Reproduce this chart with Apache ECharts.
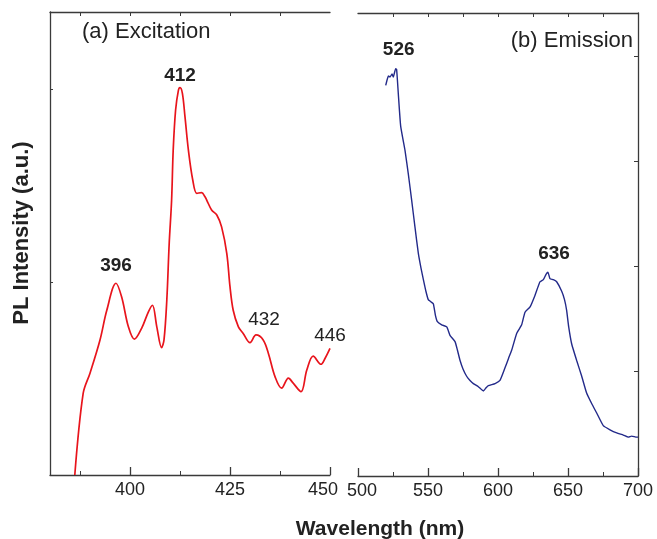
<!DOCTYPE html>
<html><head><meta charset="utf-8">
<script src="https://cdn.jsdelivr.net/npm/echarts@6/dist/echarts.min.js"></script>
<style>html,body{margin:0;padding:0;background:#fff}#c{width:657px;height:539px}</style>
</head><body><div id="c"></div>
<script>
// Excitation (a)
const exWl = [386.2, 388.3, 390, 392.5, 394.2, 396.5, 397.9, 399.6, 401.1, 402.9, 404.6, 405.6, 406.7, 407.9, 408.5, 409.2, 409.8, 410.4, 410.8, 411.4, 412.1, 412.5, 413.1, 413.75, 414.6, 415.7, 416.7, 417.9, 418.75, 419.2, 420.4, 421.7, 422.9, 424.2, 425, 425.8, 427.1, 428.3, 430, 431.5, 433.3, 434.6, 436.25, 437.9, 439.6, 440.8, 442.75, 444.2, 445.8, 447.75, 448.75, 450];
const exVal = [0, 21.2, 26.4, 35.0, 42.7, 49.7, 46.2, 38.4, 35.2, 38.0, 42.3, 44.0, 38.4, 33.0, 35.0, 45.3, 60.0, 71.2, 84.2, 94.6, 99.7, 100.4, 98.9, 92.8, 84.2, 76.4, 73.0, 73.2, 72.1, 71.2, 68.7, 67.4, 64.3, 57.4, 48.8, 42.7, 38.4, 36.7, 34.3, 36.3, 35.0, 31.5, 25.5, 22.5, 25.1, 23.8, 21.6, 27.2, 30.8, 28.7, 30.2, 32.8];
// Emission (b)
const emWl = [519.8, 521.7, 522.9, 524.3, 525.2, 526.9, 527.6, 528.8, 530.5, 533.6, 536, 538.3, 540.7, 543.1, 545, 546.7, 548.5, 550.2, 552, 553.8, 555.3, 556.7, 559.8, 563.4, 565.7, 569.3, 571, 572.9, 575, 577.6, 580, 582.4, 586, 589.5, 591.5, 593.1, 597.9, 601.4, 605, 607.5, 609.8, 613.4, 616.9, 619.3, 622.9, 626.4, 630, 632.4, 634.3, 635.7, 637.1, 639.5, 641.9, 645.5, 647.5, 649, 650.5, 652.6, 656.2, 659.8, 663.3, 666.9, 670.5, 675.2, 680, 684.8, 689.5, 693.1, 695.5, 699.1, 700];
const emVal = [3.72, 3.81, 3.80, 3.83, 3.80, 3.88, 3.87, 3.64, 3.33, 3.10, 2.87, 2.63, 2.37, 2.12, 1.98, 1.87, 1.76, 1.68, 1.66, 1.64, 1.53, 1.47, 1.44, 1.42, 1.34, 1.28, 1.20, 1.10, 1.02, 0.95, 0.91, 0.88, 0.85, 0.81, 0.84, 0.86, 0.88, 0.91, 1.03, 1.12, 1.20, 1.36, 1.44, 1.56, 1.61, 1.72, 1.85, 1.87, 1.92, 1.94, 1.88, 1.87, 1.85, 1.76, 1.68, 1.58, 1.42, 1.26, 1.10, 0.95, 0.79, 0.69, 0.60, 0.48, 0.44, 0.41, 0.39, 0.37, 0.38, 0.37, 0.37];
// Ticks
const exMajorTicks = [400, 425, 450];
const exMinorTicks = [387.5, 412.5, 437.5];
const exTopTicks = [387.5, 400, 412.5, 425, 437.5];
const emTopTicks = [525, 550, 575, 600, 625, 650, 675];
const exYTicks = [50, 100];
const emYTicks = [1, 2, 3, 4];
// Peak annotations: [wavelength, value, text, bold]
const exPeaks = [[396.5, 49.7, '396', true], [412.5, 100.4, '412', true], [431.5, 36.3, '432', false], [450, 32.8, '446', false]];
const emPeaks = [[526.9, 3.88, '526', true], [635.7, 1.94, '636', true]];

const AX = '#3a3a3a', TXT = '#222', FONT = 'Liberation Sans, Arial, sans-serif';
const pair = (xs, ys) => xs.map((x, i) => [x, ys[i]]);
const mk = (arr, offs) => arr.map((p, i) => ({
  coord: [p[0], p[1]], value: p[2],
  label: { show: true, formatter: p[2], fontWeight: p[3] ? 'bold' : 'normal', fontSize: 19, color: TXT, fontFamily: FONT, offset: offs[i], position: 'inside' }
}));
const tickLbl = { color: TXT, fontSize: 18, fontFamily: FONT, margin: 6 };

const chart = echarts.init(document.getElementById('c'), null, { renderer: 'canvas' });
chart.setOption({
  animation: false,
  backgroundColor: '#fff',
  grid: [
    { left: 50, right: 327, top: 12, bottom: 64 },
    { left: 358, right: 19, top: 13, bottom: 63 }
  ],
  xAxis: [
    { gridIndex: 0, type: 'value', min: 380, max: 450, position: 'bottom',
      axisLine: { lineStyle: { color: AX, width: 1.3 } },
      axisTick: { inside: true, length: 8, customValues: exMajorTicks, lineStyle: { color: AX, width: 1.3 } },
      axisLabel: Object.assign({ customValues: exMajorTicks,
        formatter: v => v === 450 ? '{r|450}' : String(v),
        rich: { r: { padding: [0, 14, 0, 0], color: TXT, fontSize: 18, fontFamily: FONT } } }, tickLbl),
      splitLine: { show: false } },
    { gridIndex: 0, type: 'value', min: 380, max: 450, position: 'bottom',
      axisLine: { show: false },
      axisTick: { inside: true, length: 4, customValues: exMinorTicks, lineStyle: { color: AX, width: 1 } },
      axisLabel: { show: false }, splitLine: { show: false } },
    { gridIndex: 0, type: 'value', min: 380, max: 450, position: 'top',
      axisLine: { lineStyle: { color: AX, width: 1.3 } },
      axisTick: { inside: true, length: 4, customValues: exTopTicks, lineStyle: { color: AX, width: 1 } },
      axisLabel: { show: false }, splitLine: { show: false } },
    { gridIndex: 1, type: 'value', min: 500, max: 700, interval: 50, position: 'bottom',
      axisLine: { lineStyle: { color: AX, width: 1.3 } },
      axisTick: { inside: true, length: 8, lineStyle: { color: AX, width: 1.3 } },
      minorTick: { show: true, splitNumber: 2, length: 4, lineStyle: { color: AX, width: 1 } },
      axisLabel: Object.assign({
        formatter: v => v === 500 ? '{l|500}' : String(v),
        rich: { l: { padding: [0, 0, 0, 8], color: TXT, fontSize: 18, fontFamily: FONT } } }, tickLbl),
      splitLine: { show: false } },
    { gridIndex: 1, type: 'value', min: 500, max: 700, position: 'top',
      axisLine: { lineStyle: { color: AX, width: 1.3 } },
      axisTick: { inside: true, length: 4, customValues: emTopTicks, lineStyle: { color: AX, width: 1 } },
      axisLabel: { show: false }, splitLine: { show: false } }
  ],
  yAxis: [
    { gridIndex: 0, type: 'value', min: 0, max: 120, position: 'left',
      axisLine: { show: true, lineStyle: { color: AX, width: 1.3 } },
      axisTick: { show: true, inside: true, length: 3, customValues: exYTicks, lineStyle: { color: AX } },
      axisLabel: { show: false }, splitLine: { show: false } },
    { gridIndex: 1, type: 'value', min: 0, max: 4.41, position: 'right',
      axisLine: { show: true, lineStyle: { color: AX, width: 1.3 } },
      axisTick: { show: true, inside: true, length: 4, customValues: emYTicks, lineStyle: { color: AX } },
      axisLabel: { show: false }, splitLine: { show: false } }
  ],
  series: [
    { type: 'line', xAxisIndex: 0, yAxisIndex: 0, data: pair(exWl, exVal), showSymbol: false, smooth: 0.35,
      lineStyle: { color: '#e8141c', width: 1.7 }, clip: true,
      markPoint: { symbol: 'circle', symbolSize: 0, data: mk(exPeaks, [[0, -17], [0, -12], [8, -15], [0, -13]]) } },
    { type: 'line', xAxisIndex: 3, yAxisIndex: 1, data: pair(emWl, emVal), showSymbol: false, smooth: 0.15,
      lineStyle: { color: '#232a8a', width: 1.4 },
      markPoint: { symbol: 'circle', symbolSize: 0, data: mk(emPeaks, [[3, -19], [6, -19]]) } }
  ],
  graphic: [
    { type: 'text', left: 82, top: 21, style: { text: '(a) Excitation', fontSize: 22, fontFamily: FONT, fill: TXT } },
    { type: 'text', right: 24, top: 30, style: { text: '(b) Emission', fontSize: 22, fontFamily: FONT, fill: TXT } },
    { type: 'text', x: 380, y: 529, style: { text: 'Wavelength (nm)', fontSize: 21, fontWeight: 'bold', fontFamily: FONT, fill: TXT, align: 'center', verticalAlign: 'middle' } },
    { type: 'text', x: 22, y: 233, rotation: Math.PI / 2, style: { text: 'PL Intensity (a.u.)', fontSize: 22, fontWeight: 'bold', fontFamily: FONT, fill: TXT, align: 'center', verticalAlign: 'middle' } }
  ]
});
</script></body></html>
